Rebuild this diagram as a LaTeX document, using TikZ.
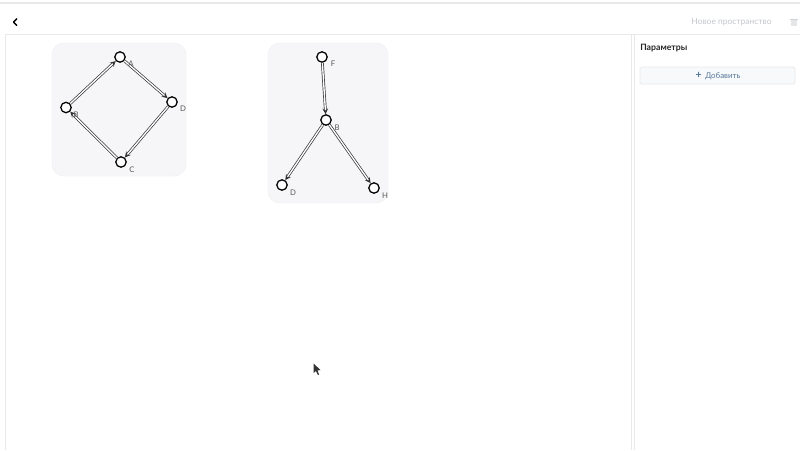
\documentclass[tikz,border=0pt]{standalone}
\usepackage{fontspec}
\setmainfont{Lato}
\usetikzlibrary{arrows,calc,positioning}
\definecolor{panelfill}{HTML}{F6F6F8}
\definecolor{panelline}{HTML}{EFEFF2}
\definecolor{frameline}{HTML}{E9E9EC}
\definecolor{dimtext}{HTML}{C4C7CC}
\definecolor{btnblue}{HTML}{55799A}
\definecolor{btnfill}{HTML}{F8F9FB}
\tikzstyle{vertex}    = [circle, draw=black, line width=0.9pt, fill=white, inner sep=0pt, minimum size=0.26cm]
\tikzstyle{vlabel}    = [font=\fontsize{5.5}{6}\selectfont, text=black!65, inner sep=0pt]
\tikzstyle{panel}     = [draw=panelline, fill=panelfill, rounded corners=0.3cm, line width=0.3pt]
\tikzstyle{arrow}     = [draw=black!80, double=white, double distance=0.95pt, line width=0.5pt, ->, >=stealth]
\begin{document}
\begin{tikzpicture}[x=0.025cm,y=-0.025cm]
        \useasboundingbox (0,0) rectangle (800,450);
        \fill[white] (0,0) rectangle (800,450);

        % window frame
        \draw[frameline, line width=1pt] (0,3) -- (800,3);
        \draw[frameline, line width=0.7pt] (5,450) -- (5,34) -- (800,34);
        \draw[frameline, line width=0.7pt] (631,34) -- (631,450);
        \draw[frameline, line width=0.5pt] (634,34) -- (634,450);
        \draw[line width=1pt, line join=round] (17,18.5) -- (13.5,22) -- (17,25.5);
        \node[font=\fontsize{6}{7}\selectfont, text=dimtext, inner sep=0pt] (newspace) at (731.5,22.5) {Новое пространство};
        \fill[dimtext!45] (790.5,20) rectangle (796.5,26);
        \draw[dimtext!80, line width=0.5pt] (789.5,19) -- (797.5,19);

        % right column
        \node[font=\fontsize{6.2}{7}\selectfont\bfseries, text=black!85, anchor=west, inner sep=0pt] (params) at (640,48.5) {Параметры};
        \draw[frameline, fill=btnfill, rounded corners=0.04cm, line width=0.5pt] (640,67) rectangle (795,84);
        \node[font=\fontsize{5.6}{7}\selectfont, text=btnblue, inner sep=0pt] (addbtn) at (718,76.2) {\fontsize{7.5}{7}\selectfont\textbf{+}\hspace{2.5pt}\fontsize{5.6}{7}\selectfont Добавить};

        % first graph
        \draw[panel] (52,43) rectangle (186,176);
        \node[vertex] (a) at (120,57) {};
        \node[vertex] (d) at (172,102) {};
        \node[vertex] (c) at (121,162) {};
        \node[vertex] (b) at (66,107.5) {};
        \draw[arrow] (a) -- (d);
        \draw[arrow] (d) -- (c);
        \draw[arrow] (c) -- (b);
        \draw[arrow] (b) -- (a);
        \node[vlabel] (la) at (131,64) {A};
        \node[vlabel] (ld) at (183,108.5) {D};
        \node[vlabel] (lc) at (132,170) {C};
        \node[vlabel] (lb) at (76,115) {B};

        % second graph
        \draw[panel] (268,43) rectangle (388,203);
        \node[vertex] (f) at (322,57) {};
        \node[vertex] (g) at (326,120) {};
        \node[vertex] (e) at (282,185) {};
        \node[vertex] (h) at (374,188) {};
        \draw[arrow] (f) -- (g);
        \draw[arrow] (g) -- (e);
        \draw[arrow] (g) -- (h);
        \node[vlabel] (lf) at (333,64) {F};
        \node[vlabel] (lg) at (337,128) {B};
        \node[vlabel] (le) at (293,192.5) {D};
        \node[vlabel] (lh) at (385,196) {H};

        % mouse pointer
        \fill[black!80] (313.5,363.5) -- (313.5,373) -- (316,371) -- (318,375) -- (319,374.5) -- (317.5,370.5) -- (320.5,370) -- cycle;
    \end{tikzpicture}
\end{document}
